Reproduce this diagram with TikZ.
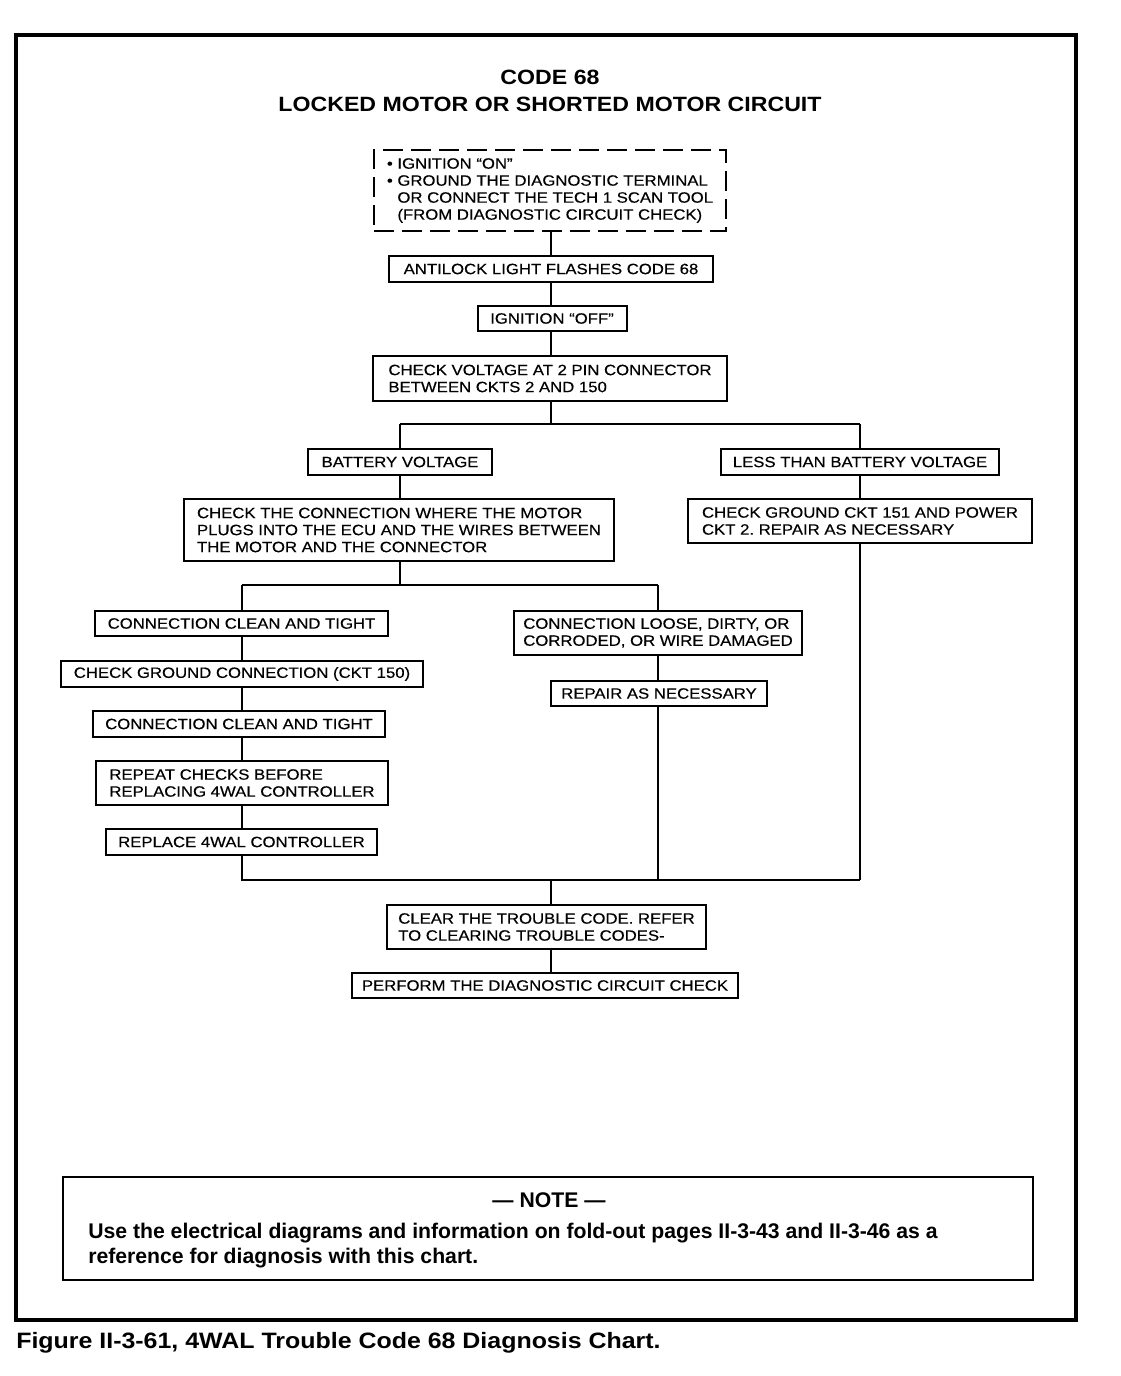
\documentclass[tikz,border=0pt]{standalone}
\usepackage{fontspec}
\setmainfont{Liberation Sans}
\newfontfamily\boxfont[FakeStretch=1.12]{Liberation Sans}
\newfontfamily\boxtext[FakeStretch=1.12,FakeBold=0.4]{Liberation Sans}
\frenchspacing
\usetikzlibrary{calc}
\tikzset{
  bx/.style={draw, line width=1.5pt, inner sep=0pt, align=left,
    font=\boxtext\fontsize{11.2}{12.75}\selectfont},
  dbx/.style={bx, dash pattern=on 15pt off 6pt},
  ln/.style={line width=1.5pt},
}
\begin{document}
\begin{tikzpicture}[x=0.75pt,y=-0.75pt]
\useasboundingbox (0,0) rectangle (1120,1376);
\draw[line width=3pt] (16,35) rectangle (1076,1320);

\node[align=center, font=\boxfont\bfseries\fontsize{15.5}{20.25}\selectfont] (title) at (550,90.5)
  {CODE 68\\LOCKED MOTOR OR SHORTED MOTOR CIRCUIT};

\node[dbx, minimum width=264pt, minimum height=60.75pt] (d1) at (550,190.5)
  {• IGNITION “ON”\\• GROUND THE DIAGNOSTIC TERMINAL\\\phantom{• }OR CONNECT THE TECH 1 SCAN TOOL\\\phantom{• }(FROM DIAGNOSTIC CIRCUIT CHECK)};
\node[bx, minimum width=243pt, minimum height=19.5pt] (b2) at (551,269) {ANTILOCK LIGHT FLASHES CODE 68};
\node[bx, minimum width=111.75pt, minimum height=18.75pt] (b3) at (552,318.5) {IGNITION “OFF”};
\node[bx, minimum width=265.5pt, minimum height=33.75pt] (b4) at (550,378.5) {CHECK VOLTAGE AT 2 PIN CONNECTOR\\BETWEEN CKTS 2 AND 150};
\node[bx, minimum width=138pt, minimum height=19.5pt] (b5) at (400,462) {BATTERY VOLTAGE};
\node[bx, minimum width=208.5pt, minimum height=19.5pt] (b6) at (860,462) {LESS THAN BATTERY VOLTAGE};
\node[bx, minimum width=322.5pt, minimum height=46.5pt] (b7) at (399,530) {CHECK THE CONNECTION WHERE THE MOTOR\\PLUGS INTO THE ECU AND THE WIRES BETWEEN\\THE MOTOR AND THE CONNECTOR};
\node[bx, minimum width=258pt, minimum height=33pt] (b8) at (860,521) {CHECK GROUND CKT 151 AND POWER\\CKT 2. REPAIR AS NECESSARY};
\node[bx, minimum width=219.75pt, minimum height=18.75pt] (b9) at (241.5,623.5) {CONNECTION CLEAN AND TIGHT};
\node[bx, minimum width=216pt, minimum height=33pt] (b10) at (658,633) {CONNECTION LOOSE, DIRTY, OR\\CORRODED, OR WIRE DAMAGED};
\node[bx, minimum width=271.5pt, minimum height=19.5pt] (b11) at (242,674) {CHECK GROUND CONNECTION (CKT 150)};
\node[bx, minimum width=219pt, minimum height=19.5pt] (b12) at (239,724) {CONNECTION CLEAN AND TIGHT};
\node[bx, minimum width=219pt, minimum height=33pt] (b13) at (242,783) {REPEAT CHECKS BEFORE\\REPLACING 4WAL CONTROLLER};
\node[bx, minimum width=203.25pt, minimum height=19.5pt] (b14) at (241.5,842) {REPLACE 4WAL CONTROLLER};
\node[bx, minimum width=162pt, minimum height=18.75pt] (b15) at (659,693.5) {REPAIR AS NECESSARY};
\node[bx, minimum width=239.25pt, minimum height=33pt] (b16) at (546.5,927) {CLEAR THE TROUBLE CODE. REFER\\TO CLEARING TROUBLE CODES-};
\node[bx, minimum width=289.5pt, minimum height=18.75pt] (b17) at (545,985.5) {PERFORM THE DIAGNOSTIC CIRCUIT CHECK};

\coordinate (jA) at (551,424);
\coordinate (jAL) at (400,424);
\coordinate (jAR) at (860,424);
\coordinate (jB) at (400,585);
\coordinate (jBL) at (242,585);
\coordinate (jBR) at (658,585);
\coordinate (jC) at (551,880);
\coordinate (jD) at (860,880);

\draw[ln] (d1.south -| jA) -- (b2.north -| jA);
\draw[ln] (b2.south -| jA) -- (b3.north -| jA);
\draw[ln] (b3.south -| jA) -- (b4.north -| jA);
\draw[ln] (b4.south -| jA) -- (jA);
\draw[ln] (jAL) -- (jAR);
\draw[ln] (jAL) -- (jAL |- b5.north);
\draw[ln] (jAR) -- (jAR |- b6.north);
\draw[ln] (b5.south) -- (b5.south |- b7.north);
\draw[ln] (b6.south) -- (b6.south |- b8.north);
\draw[ln] (b7.south -| jB) -- (jB);
\draw[ln] (jBL) -- (jBR);
\draw[ln] (jBL) -- (jBL |- b9.north);
\draw[ln] (jBR) -- (jBR |- b10.north);
\draw[ln] (b9.south -| jBL) -- (b11.north -| jBL);
\draw[ln] (b11.south -| jBL) -- (b12.north -| jBL);
\draw[ln] (b12.south -| jBL) -- (b13.north -| jBL);
\draw[ln] (b13.south -| jBL) -- (b14.north -| jBL);
\draw[ln] (b10.south -| jBR) -- (b15.north -| jBR);
\draw[ln] (b15.south -| jBR) -- (jBR |- jC);
\draw[ln] (b14.south -| jBL) |- (jD);
\draw[ln] (b8.south) -- (b8.south |- jD);
\draw[ln] (jC) -- (jC |- b16.north);
\draw[ln] (b16.south -| jC) -- (b17.north -| jC);

\node[draw, line width=1.5pt, minimum width=727.5pt, minimum height=77.25pt] (note) at (548,1228.5) {};
\node[font=\bfseries\fontsize{15.9}{18.75}\selectfont, inner sep=0pt] (noteT) at (549,1200) {— NOTE —};
\node[anchor=west, align=left, inner sep=0pt, font=\bfseries\fontsize{15.9}{18.75}\selectfont] (noteB) at (88,1245.5)
  {Use the electrical diagrams and information on fold-out pages II-3-43 and II-3-46 as a\\reference for diagnosis with this chart.};

\node[anchor=west, inner sep=0pt, font=\boxfont\bfseries\fontsize{16.7}{20}\selectfont] (cap) at (16,1343)
  {Figure II-3-61, 4WAL Trouble Code 68 Diagnosis Chart.};
\end{tikzpicture}
\end{document}
